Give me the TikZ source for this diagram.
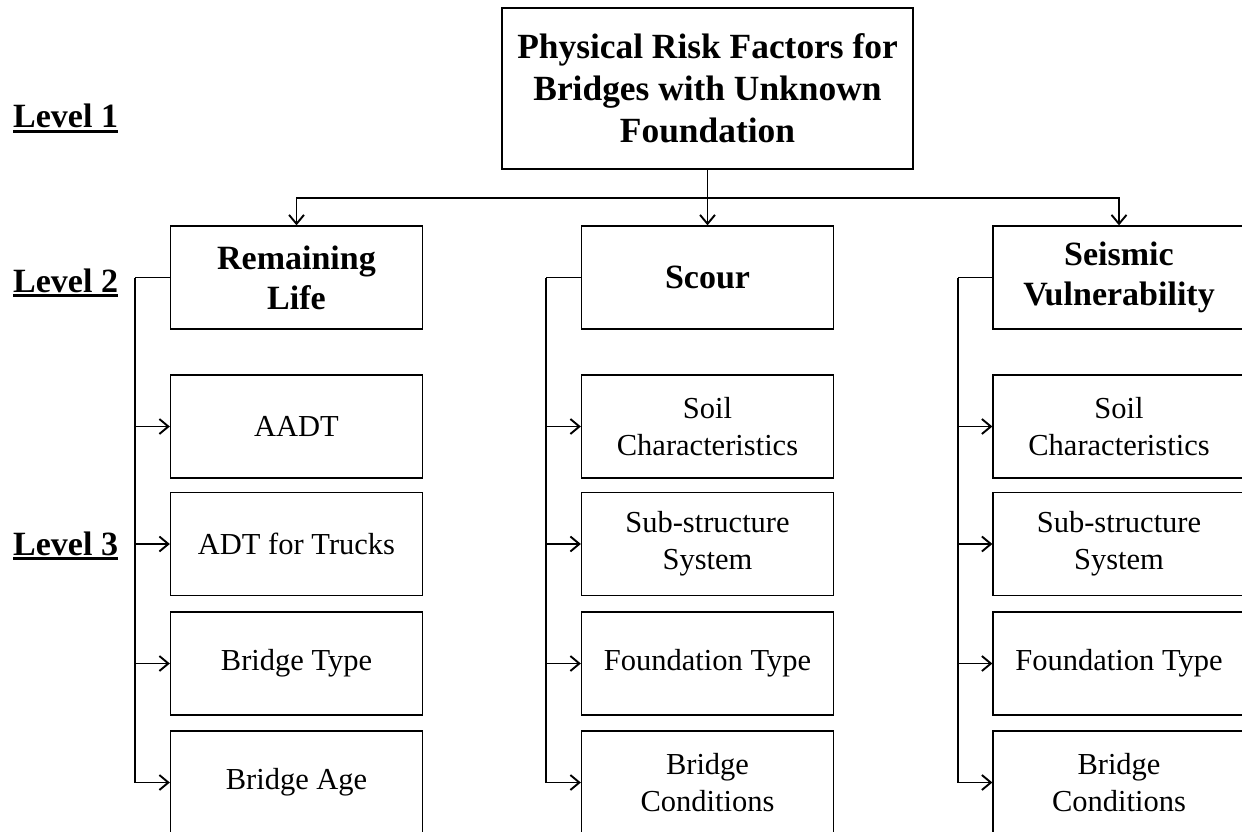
\documentclass[tikz,border=0pt]{standalone}
\usepackage{fontspec}
\setmainfont{Liberation Serif}
\usetikzlibrary{arrows.meta}

\begin{document}
\begin{tikzpicture}[x=1pt,y=-1pt,>={Straight Barb[length=9pt,width=15pt]},
  box/.style={draw,line width=1.3pt,minimum width=252pt,minimum height=103pt,inner sep=0pt,align=center},
  headbox/.style={box,font=\fontsize{34}{40}\selectfont\bfseries},
  itembox/.style={box,font=\fontsize{30.5}{37}\selectfont},
  link/.style={line width=1.9pt},
  lvl/.style={anchor=base west,inner sep=0pt,font=\fontsize{34}{40}\selectfont\bfseries}]
  \useasboundingbox (0,0) rectangle (1242,832);
  \clip (0,0) rectangle (1242,832);
  % level 1
  \node[box,minimum width=411pt,minimum height=161pt,font=\fontsize{35.4}{42}\selectfont\bfseries] (title) at (707.5,88.5)
    {Physical Risk Factors for\\Bridges with Unknown\\Foundation};
  % level 2
  \node[headbox] (rl) at (296.5,277.5) {Remaining\\Life};
  \node[headbox] (sc) at (707.5,277.5) {Scour};
  \node[headbox] (sv) at (1119,277.5) {Seismic\\Vulnerability};
  % level 3
  \foreach \y/\t [count=\i] in {426.5/AADT,544/ADT for Trucks,663.5/Bridge Type,782.5/Bridge Age}
    \node[itembox] (rl-\i) at (296.5,\y) {\t};
  \foreach \y/\t [count=\i] in {426.5/{Soil\\Characteristics},544/{Sub-structure\\System},663.5/Foundation Type,782.5/{Bridge\\Conditions}}{
    \node[itembox] (sc-\i) at (707.5,\y) {\t};
    \node[itembox] (sv-\i) at (1119,\y) {\t};
  }
  % level labels
  \node[lvl] (lv1) at (13,128) {Level 1};
  \node[lvl] (lv2) at (13,292) {Level 2};
  \node[lvl] (lv3) at (13,555) {Level 3};
  \foreach \n in {lv1,lv2,lv3}
    \draw[line width=2.8pt] ([yshift=-3.5pt]\n.base west) -- ([yshift=-3.5pt]\n.base east);
  % connectors
  \coordinate (bus) at (707.5,198);
  \draw[link] (title) -- (bus);
  \draw[link,->] (bus) -| (rl);
  \draw[link,->] (bus) -- (sc);
  \draw[link,->] (bus) -| (sv);
  \foreach \h in {rl,sc,sv}{
    \draw[link] (\h.west) -- ++(-34.5,0) coordinate (\h-sp);
    \foreach \i in {1,...,4}
      \draw[link,->] (\h-sp) |- (\h-\i);
  }
\end{tikzpicture}
\end{document}
